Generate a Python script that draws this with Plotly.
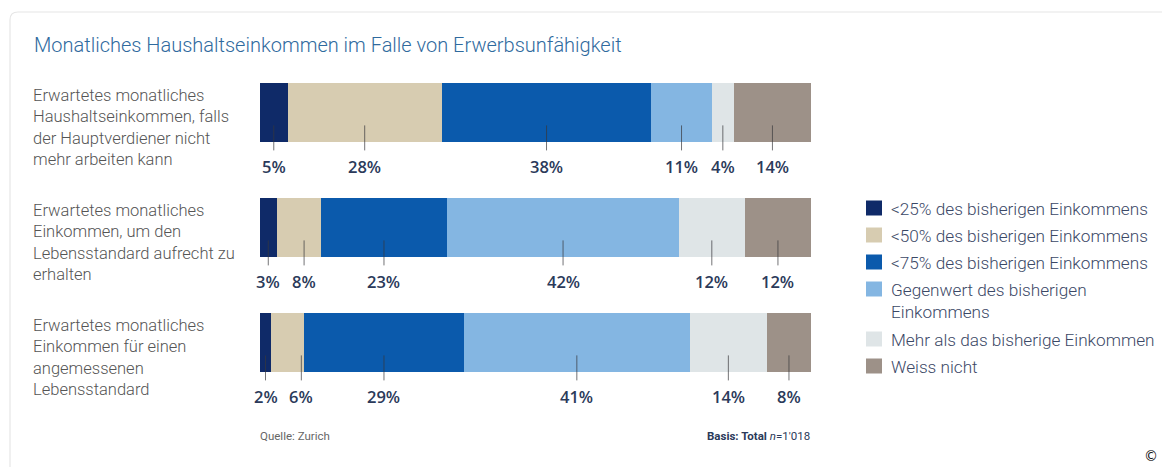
import plotly.graph_objects as go

# ---------------- data ----------------
row_labels = [
    "Erwartetes monatliches<br>Haushaltseinkommen, falls<br>der Hauptverdiener nicht<br>mehr arbeiten kann",
    "Erwartetes monatliches<br>Einkommen, um den<br>Lebensstandard aufrecht zu<br>erhalten",
    "Erwartetes monatliches<br>Einkommen für einen<br>angemessenen<br>Lebensstandard",
]
series_names = [
    "<25% des bisherigen Einkommens",
    "<50% des bisherigen Einkommens",
    "<75% des bisherigen Einkommens",
    "Gegenwert des bisherigen<br>Einkommens",
    "Mehr als das bisherige Einkommen",
    "Weiss nicht",
]
lt25 = [5, 3, 2]
lt50 = [28, 8, 6]
lt75 = [38, 23, 29]
gegenwert = [11, 42, 41]
mehr = [4, 12, 14]
weiss = [14, 12, 8]
series_values = [lt25, lt50, lt75, gegenwert, mehr, weiss]
colors = ["#0f2a68", "#d7ccb1", "#0b5aac", "#84b6e2", "#dfe5e7", "#9d9188"]

title = "Monatliches Haushaltseinkommen im Falle von Erwerbsunfähigkeit"
source = "Quelle: Zurich"
basis = "<b>Basis: Total</b> <i>n</i>=1'018"

# ---------------- geometry helpers (screen pixels -> figure) ----------------
SCREEN_W, SCREEN_H = 1170, 475
OFF = 8                      # default page body margin
W, H = SCREEN_W - 2 * OFF, SCREEN_H - 2 * OFF
PLOT_X0, PW = 260, 551       # screen pixels
PLOT_Y0, PH = 55, 345
L = PLOT_X0 - OFF
T = PLOT_Y0 - OFF
R = W - L - PW
B = H - T - PH

def px(x):
    return (x - PLOT_X0) / PW

def py(y):
    return 1 - (y - PLOT_Y0) / PH

bar_w = 0.52
unit = PH / 3.0  # pixels per row unit
FONT = "Roboto"

fig = go.Figure()
rows = list(range(len(row_labels)))
for name, vals, col in zip(series_names, series_values, colors):
    fig.add_trace(go.Bar(
        y=rows, x=vals, orientation="h", name=name,
        marker=dict(color=col, line=dict(width=0)),
        width=bar_w, showlegend=False, hoverinfo="x+name",
    ))

annotations = []
shapes = []

# value labels and small leader lines
min_gap = 6.5
for r in rows:
    vals = [s[r] for s in series_values]
    centers = []
    acc = 0
    for v in vals:
        centers.append(acc + v / 2)
        acc += v
    pos = []
    for i, c in enumerate(centers):
        p = c if i == 0 else max(c, pos[-1] + min_gap)
        pos.append(p)
    for v, p in zip(vals, pos):
        annotations.append(dict(
            x=p, y=r + 0.47, xref="x", yref="y", text=f"{v}%",
            showarrow=False, xanchor="center", yanchor="middle",
            font=dict(family="Open Sans", size=16.5, color="#2b3a5a", weight=600),
        ))
        shapes.append(dict(
            type="line", xref="x", yref="y",
            x0=p, x1=p,
            y0=r + bar_w / 2 - 17 / unit, y1=r + bar_w / 2 + 8 / unit,
            line=dict(color="rgba(55,55,60,0.7)", width=1),
        ))

# row labels
for r, lab in zip(rows, row_labels):
    annotations.append(dict(
        x=px(31), y=r - bar_w / 2 + 1 / unit, xref="paper", yref="y",
        text=lab, showarrow=False, xanchor="left", yanchor="top", align="left",
        font=dict(family=FONT, size=16.5, color="#555555", weight=300),
    ))

# title
annotations.append(dict(
    x=px(32), y=py(45), xref="paper", yref="paper", text=title,
    showarrow=False, xanchor="left", yanchor="middle",
    font=dict(family=FONT, size=20, color="#2f6a9e", weight=300),
))

# footer
annotations.append(dict(
    x=px(258), y=py(436), xref="paper", yref="paper", text=source,
    showarrow=False, xanchor="left", yanchor="middle",
    font=dict(family=FONT, size=11.5, color="#666666"),
))
annotations.append(dict(
    x=px(812), y=py(436), xref="paper", yref="paper", text=basis,
    showarrow=False, xanchor="right", yanchor="middle",
    font=dict(family=FONT, size=11.5, color="#2b3a5a"),
))

# copyright
annotations.append(dict(
    x=px(1160), y=py(456), xref="paper", yref="paper", text="©",
    showarrow=False, xanchor="right", yanchor="middle",
    font=dict(family="DejaVu Sans", size=14, color="#111111"),
))

# manual legend
ly = 208
for name, col in zip(series_names, colors):
    nlines = name.count("<br>") + 1
    shapes.append(dict(
        type="rect", xref="paper", yref="paper",
        x0=px(866), x1=px(882), y0=py(ly - 7.5), y1=py(ly + 7.5),
        fillcolor=col, line=dict(width=0),
    ))
    annotations.append(dict(
        x=px(889), y=py(ly - 11), xref="paper", yref="paper", text=name,
        showarrow=False, xanchor="left", yanchor="top", align="left",
        font=dict(family=FONT, size=17.2, color="#3b4866", weight=300),
    ))
    ly += 27 + (nlines - 1) * 23

# panel border (rounded top-left corner)
rad = 8
shapes.append(dict(
    type="path", xref="paper", yref="paper",
    path=(f"M {px(10)},{py(480)} L {px(10)},{py(12 + rad)} "
          f"Q {px(10)},{py(12)} {px(10 + rad)},{py(12)} L {px(1175)},{py(12)}"),
    line=dict(color="#e6e6e6", width=1.2),
))

fig.update_layout(
    width=W, height=H,
    margin=dict(l=L, r=R, t=T, b=B, autoexpand=False),
    barmode="stack",
    plot_bgcolor="white", paper_bgcolor="white",
    xaxis=dict(range=[0, 100], visible=False, fixedrange=True),
    yaxis=dict(range=[2.5, -0.5], visible=False, fixedrange=True),
    annotations=annotations, shapes=shapes,
    showlegend=False,
    font=dict(family=FONT),
)

fig.write_html("out.html")
